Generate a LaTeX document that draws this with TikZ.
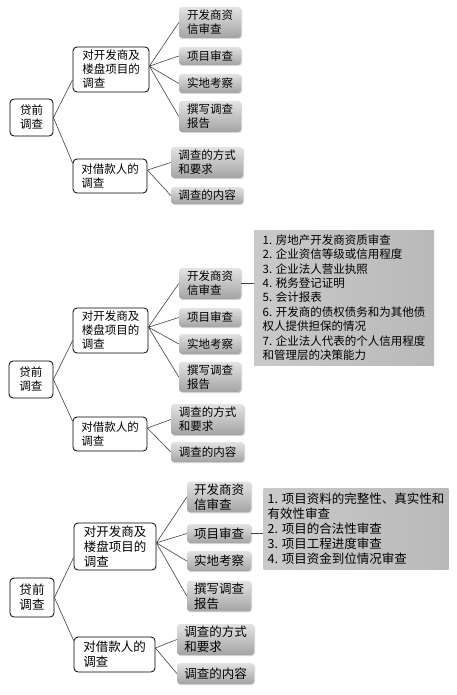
\documentclass[tikz,border=0pt]{standalone}
\usepackage{fontspec}
\setmainfont{Noto Sans CJK SC}
\usetikzlibrary{shadows}

\newcommand{\cnfont}{\fontsize{11.5}{14}\selectfont}
\newcommand{\cnfontb}{\fontsize{12.5}{15}\selectfont}

\tikzset{
    rootbox/.style={draw=black, line width=0.8pt, rounded corners=4pt, fill=white, align=left, inner sep=2pt, minimum width=43pt},
    midbox/.style={draw=black, line width=0.8pt, rounded corners=4pt, fill=white, align=left, inner sep=2pt, minimum width=76pt},
    leafbox/.style={rounded corners=3pt, top color=gray!22, bottom color=gray!72, align=left, inner sep=2pt, minimum width=62pt,
        drop shadow={shadow xshift=1pt, shadow yshift=-1pt, opacity=0.3}},
    notebox/.style={left color=gray!42, right color=gray!55, align=left, inner xsep=4pt, inner ysep=2pt},
    link/.style={draw=black!75, line width=0.6pt}
}

\begin{document}
\begin{tikzpicture}[x=1pt, y=-1pt, font=\cnfont]
    \useasboundingbox (0,0) rectangle (457,695);

    % panel 1
    \node[rootbox, minimum height=37pt] (r1) at (31.5,117.5) {贷前\\调查};
    \node[midbox, minimum height=45pt] (a1) at (111,69.5) {对开发商及\\楼盘项目的\\调查};
    \node[midbox, minimum width=74pt, minimum height=34pt] (b1) at (110,176) {对借款人的\\调查};
    \node[leafbox, minimum height=31pt] (c1) at (210,22.5) {开发商资\\信审查};
    \node[leafbox, minimum height=18pt] (d1) at (210,56) {项目审查};
    \node[leafbox, minimum height=19pt] (e1) at (210,83.5) {实地考察};
    \node[leafbox, minimum height=31pt] (f1) at (210,116.5) {撰写调查\\报告};
    \node[leafbox, minimum width=72pt, minimum height=31pt] (g1) at (207,162.5) {调查的方式\\和要求};
    \node[leafbox, minimum width=72pt, minimum height=17pt] (h1) at (207,195.5) {调查的内容};

    \draw[link] (r1.east) -- (a1.195) (r1.east) -- (b1.161);
    \draw[link] (a1.5) -- (c1.west) (a1.5) -- (d1.west) (a1.5) -- (e1.west) (a1.5) -- (f1.west);
    \draw[link] (b1.9) -- (g1.west) (b1.9) -- (h1.west);

    % panel 2
    \node[rootbox, minimum width=44pt, minimum height=37pt] (r2) at (31,379.5) {贷前\\调查};
    \node[midbox, minimum width=75pt, minimum height=45pt] (a2) at (110.5,330.5) {对开发商及\\楼盘项目的\\调查};
    \node[midbox, minimum width=74pt, minimum height=34pt] (b2) at (110,434) {对借款人的\\调查};
    \node[leafbox, minimum height=31pt] (c2) at (210,283.5) {开发商资\\信审查};
    \node[leafbox, minimum height=19pt] (d2) at (210,317.5) {项目审查};
    \node[leafbox, minimum height=20pt] (e2) at (210,344) {实地考察};
    \node[leafbox, minimum height=30pt] (f2) at (210,377) {撰写调查\\报告};
    \node[leafbox, minimum width=73pt, minimum height=31pt] (g2) at (207.5,419.5) {调查的方式\\和要求};
    \node[leafbox, minimum width=73pt, minimum height=20pt] (h2) at (207.5,452) {调查的内容};
    \node[notebox, minimum width=180pt, minimum height=135pt, font=\fontsize{11.5}{14.4}\selectfont] (n2) at (344,297.5)
        {1. 房地产开发商资质审查\\2. 企业资信等级或信用程度\\3. 企业法人营业执照\\4. 税务登记证明\\5. 会计报表\\6. 开发商的债权债务和为其他债\\权人提供担保的情况\\7. 企业法人代表的个人信用程度\\和管理层的决策能力};

    \draw[link] (r2.east) -- (a2.195) (r2.east) -- (b2.161);
    \draw[link] (a2.5) -- (c2.west) (a2.5) -- (d2.west) (a2.5) -- (e2.west) (a2.5) -- (f2.west);
    \draw[link] (b2.9) -- (g2.west) (b2.9) -- (h2.west);
    \draw[link] (c2.east) -- (c2.east -| n2.west);

    % panel 3
    \begin{scope}[font=\cnfontb]
    \node[rootbox, minimum width=44pt, minimum height=39pt] (r3) at (32,597.5) {贷前\\调查};
    \node[midbox, minimum width=82pt, minimum height=47pt] (a3) at (115,546.5) {对开发商及\\楼盘项目的\\调查};
    \node[midbox, minimum width=81pt, minimum height=35pt] (b3) at (114.5,654.5) {对借款人的\\调查};
    \node[leafbox, minimum width=64pt, minimum height=30pt] (c3) at (219,497) {开发商资\\信审查};
    \node[leafbox, minimum width=64pt, minimum height=19pt] (d3) at (219,533.5) {项目审查};
    \node[leafbox, minimum width=64pt, minimum height=20pt] (e3) at (219,561) {实地考察};
    \node[leafbox, minimum width=64pt, minimum height=30pt] (f3) at (219,596) {撰写调查\\报告};
    \node[leafbox, minimum width=77pt, minimum height=31pt] (g3) at (215.5,639.5) {调查的方式\\和要求};
    \node[leafbox, minimum width=77pt, minimum height=21pt] (h3) at (215.5,673.5) {调查的内容};
    \node[notebox, minimum width=184pt, minimum height=81pt] (n3) at (356,528.5)
        {1. 项目资料的完整性、真实性和\\有效性审查\\2. 项目的合法性审查\\3. 项目工程进度审查\\4. 项目资金到位情况审查};
    \end{scope}

    \draw[link] (r3.east) -- (a3.195) (r3.east) -- (b3.161);
    \draw[link] (a3.5) -- (c3.west) (a3.5) -- (d3.west) (a3.5) -- (e3.west) (a3.5) -- (f3.west);
    \draw[link] (b3.9) -- (g3.west) (b3.9) -- (h3.west);
    \draw[link] (d3.east) -- (d3.east -| n3.west);
\end{tikzpicture}
\end{document}
